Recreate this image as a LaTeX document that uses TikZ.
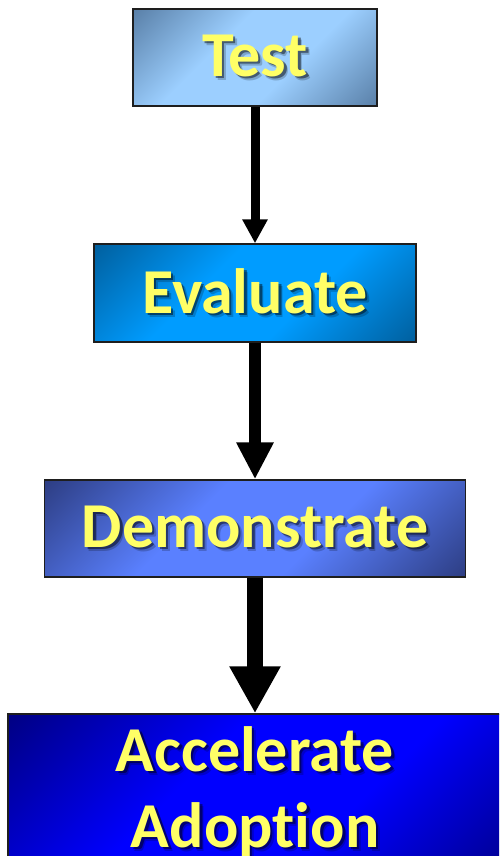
\documentclass[tikz,border=0pt]{standalone}
\usepackage{fontspec}
\setmainfont[Ligatures={NoCommon}]{Carlito}
\usetikzlibrary{arrows.meta}

\definecolor{labelyellow}{HTML}{FFFF66}
\definecolor{boxedge}{HTML}{1E1E1E}

% stage fills: dark corners, broad light band across the middle
\newcommand\stageshading[3]{%
  \pgfdeclarehorizontalshading{#1}{100bp}{%
    color(0bp)=(#2); color(14bp)=(#2); color(40bp)=(#3); color(60bp)=(#3);
    color(86bp)=(#2); color(100bp)=(#2)}}
\stageshading{testglow}{rgb,255:red,88;green,126;blue,166}{rgb,255:red,156;green,207;blue,255}
\stageshading{evalglow}{rgb,255:red,0;green,94;blue,156}{rgb,255:red,0;green,156;blue,255}
\stageshading{demoglow}{rgb,255:red,44;green,60;blue,128}{rgb,255:red,90;green,128;blue,255}
\stageshading{adoptglow}{rgb,255:red,0;green,0;blue,128}{rgb,255:red,0;green,0;blue,255}

% text with a soft drop shadow down and to the right
\newcommand\dropshadowed[1]{%
  \makebox[0pt][l]{\hspace{4pt}\raisebox{-4pt}{\pgfsetfillopacity{0.2}\color{black}#1}}%
  \makebox[0pt][l]{\hspace{2.5pt}\raisebox{-2.5pt}{\pgfsetfillopacity{0.45}\color{black}#1}}%
  \pgfsetfillopacity{1}#1}

\begin{document}
\begin{tikzpicture}[x=1pt,y=-1pt,
  stage/.style={draw=boxedge, line width=1.4pt, inner sep=0pt,
    text=labelyellow, font=\fontsize{64}{76}\selectfont\bfseries},
  glow/.style={shading=#1, shading angle=135},
  label/.style={text=labelyellow, font=\fontsize{64}{76}\selectfont\bfseries,
    inner sep=0pt},
  flow/.style={draw=black, line width=#1},
]
\useasboundingbox (0,0) rectangle (499,856);
\clip (0,0) rectangle (499,856);

% stages
\node[stage, glow=testglow, minimum width=244pt, minimum height=97pt]
  (test) at (255,57.5) {\dropshadowed{Test}};
\node[stage, glow=evalglow, minimum width=322pt, minimum height=98pt]
  (evaluate) at (255,293) {\dropshadowed{Evaluate}};
\node[stage, glow=demoglow, minimum width=421pt, minimum height=97pt]
  (demo) at (255,528.5) {\dropshadowed{Demonstrate}};
\node[stage, glow=adoptglow, minimum width=514pt, minimum height=170pt]
  (adopt) at (265,799) {};
\node[label, anchor=base] (adoptA) at (255,771) {\dropshadowed{Accelerate}};
\node[label, anchor=base] (adoptB) at (255,847) {\dropshadowed{Adoption}};

% connectors, growing heavier down the chain
\draw[flow=9pt, -{Triangle[width=24pt,length=24pt]}] (test.south) -- (evaluate.north);
\draw[flow=12pt, -{Triangle[width=35pt,length=37pt]}] (evaluate.south) -- (demo.north);
\draw[flow=16pt, -{Triangle[width=48pt,length=47pt]}] (demo.south) -- (adopt.north -| demo.south);
\end{tikzpicture}
\end{document}
